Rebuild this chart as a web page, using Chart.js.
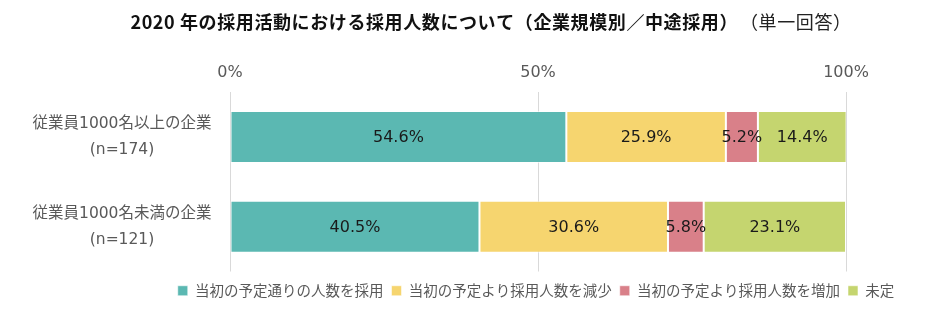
<!DOCTYPE html>
<html>
<head>
<meta charset="utf-8">
<script src="https://cdn.jsdelivr.net/npm/chart.js@4"></script>
<style>
  html, body { margin: 0; padding: 0; background: #ffffff; }
  #wrap { width: 940px; height: 331px; position: relative; }
</style>
</head>
<body>
<div id="wrap"><canvas id="c"></canvas></div>
<script>
// Company-size groups (two label lines each)
const categories = [
  ["従業員1000名以上の企業", "(n=174)"],
  ["従業員1000名未満の企業", "(n=121)"]
];
const seriesNames = [
  "当初の予定通りの人数を採用",
  "当初の予定より採用人数を減少",
  "当初の予定より採用人数を増加",
  "未定"
];
// Shares in percent, one value per company-size group
const asPlanned = [54.6, 40.5];
const decreased = [25.9, 30.6];
const increased = [5.2, 5.8];
const undecided = [14.4, 23.1];
const tickValues = [0, 50, 100];
const titleMain = "2020 年の採用活動における採用人数について（企業規模別／中途採用）";
const titleNote = "（単一回答）";

const seriesColors = ["#5bb8b2", "#f6d56f", "#d98089", "#c5d56f"];
const latinCjk = "'DejaVu Sans', 'Noto Sans CJK JP', sans-serif";
const cjk = "'Noto Sans CJK JP', sans-serif";
const catFontSize = 15.5;

// Plot area starts at x = 230
const plotLeft = 230;
const padRight = 94;
const legendCentre = 536;
const legendDrop = 4;

// Measure the widest category line so the two-line labels can be centred in the label band
const measureCtx = document.createElement('canvas').getContext('2d');
measureCtx.font = catFontSize + "px " + latinCjk;
let widestCat = 0;
categories.forEach(lines => lines.forEach(t => {
  widestCat = Math.max(widestCat, measureCtx.measureText(t).width);
}));
const catCentre = 122;
const yTickPadding = Math.max(0, plotLeft - catCentre - widestCat / 2);

// Title: bold main text followed by a regular-weight note
const titlePlugin = {
  id: 'twoWeightTitle',
  afterDraw(chart) {
    const ctx = chart.ctx;
    ctx.save();
    ctx.textBaseline = 'middle';
    ctx.textAlign = 'left';
    if ('letterSpacing' in ctx) ctx.letterSpacing = '0.6px';
    const boldFont = "bold 18px " + cjk;
    const normalFont = "18px " + cjk;
    ctx.font = boldFont;
    const w1 = ctx.measureText(titleMain).width;
    ctx.font = normalFont;
    const w2 = ctx.measureText(titleNote).width;
    const gap = 2;
    const total = w1 + gap + w2;
    const cx = 491, cy = 22;
    let x = cx - total / 2;
    ctx.fillStyle = "#111111";
    ctx.font = boldFont;
    ctx.fillText(titleMain, x, cy);
    ctx.font = normalFont;
    ctx.fillStyle = "#222222";
    ctx.fillText(titleNote, x + w1 + gap, cy);
    ctx.restore();
  }
};

// Move the legend row so it is centred at legendCentre and sits a little lower
const legendShift = {
  id: 'legendShift',
  afterLayout(chart) {
    const lg = chart.legend;
    if (!lg) return;
    const d = legendCentre - (lg.left + lg.right) / 2;
    lg.left += d;
    lg.right += d;
    lg.top += legendDrop;
    lg.bottom += legendDrop;
  }
};

// Value labels centred in each bar segment
const valueLabels = {
  id: 'valueLabels',
  afterDatasetsDraw(chart) {
    const ctx = chart.ctx;
    ctx.save();
    ctx.font = "16px " + latinCjk;
    ctx.fillStyle = "#1a1a1a";
    ctx.textAlign = 'center';
    ctx.textBaseline = 'middle';
    chart.data.datasets.forEach((ds, i) => {
      const meta = chart.getDatasetMeta(i);
      meta.data.forEach((bar, j) => {
        const v = ds.data[j];
        const x = (bar.x + bar.base) / 2;
        ctx.fillText(v.toFixed(1) + "%", x, bar.y + 1);
      });
    });
    ctx.restore();
  }
};

const seriesData = [asPlanned, decreased, increased, undecided];

new Chart(document.getElementById('c'), {
  type: 'bar',
  data: {
    labels: categories,
    datasets: seriesNames.map((name, i) => ({
      label: name,
      data: seriesData[i],
      backgroundColor: seriesColors[i],
      borderColor: "rgba(255,255,255,0.55)",
      borderWidth: 1,
      borderSkipped: false,
      barPercentage: 0.78,
      categoryPercentage: 0.745
    }))
  },
  options: {
    indexAxis: 'y',
    responsive: true,
    maintainAspectRatio: false,
    animation: false,
    devicePixelRatio: 1,
    layout: { padding: { top: 53, right: padRight, bottom: 27, left: 0 } },
    scales: {
      x: {
        position: 'top',
        stacked: true,
        min: 0,
        max: 100,
        afterBuildTicks(scale) {
          scale.ticks = tickValues.map(v => ({ value: v }));
        },
        ticks: {
          padding: 10,
          color: "#595959",
          font: { family: latinCjk, size: 16 },
          callback: v => v + "%"
        },
        grid: { color: "#d9d9d9", lineWidth: 1, drawTicks: false },
        border: { display: false }
      },
      y: {
        stacked: true,
        afterFit(scale) { scale.width = plotLeft; },
        ticks: {
          crossAlign: 'center',
          padding: yTickPadding,
          color: "#595959",
          font: { family: latinCjk, size: catFontSize, lineHeight: 1.7 }
        },
        grid: { display: false, drawTicks: false },
        border: { display: false }
      }
    },
    plugins: {
      title: { display: false },
      tooltip: { enabled: false },
      legend: {
        position: 'bottom',
        labels: {
          boxWidth: 10,
          boxHeight: 10,
          padding: 8,
          color: "#595959",
          font: { family: cjk, size: 14.5 }
        }
      }
    }
  },
  plugins: [titlePlugin, legendShift, valueLabels]
});
</script>
</body>
</html>
